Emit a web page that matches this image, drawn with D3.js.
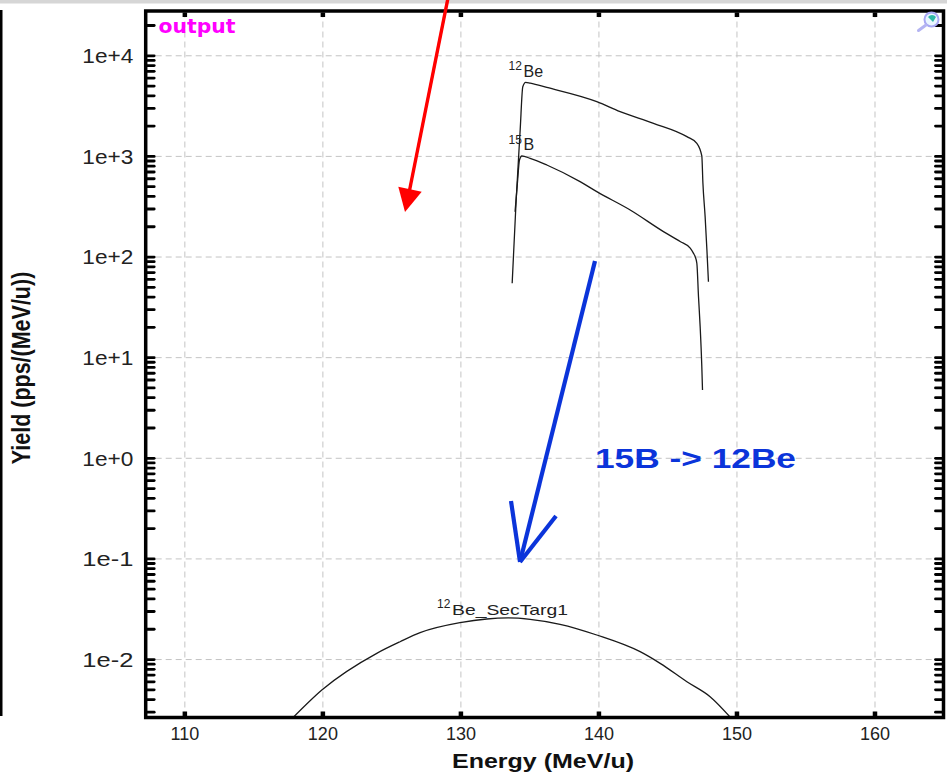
<!DOCTYPE html>
<html>
<head>
<meta charset="utf-8">
<script src="https://cdn.jsdelivr.net/npm/d3@7"></script>
<style>
  body { margin: 0; background: #fff; }
  svg { display: block; }
</style>
</head>
<body>
<div id="chart"></div>
<script>

// tick values
const energyTicks = [110, 120, 130, 140, 150, 160];
const yieldDecades = [1e-2, 1e-1, 1, 10, 100, 1e3, 1e4];

// 12Be (primary beam fragment)
const be12Energy = [133.75, 134.04, 134.33, 134.52, 134.73, 135.06, 136.26, 139.88, 141.57, 143.99, 146.41, 147.13, 147.49, 147.57, 147.73, 147.86, 147.97];
const be12Yield  = [54.2, 365, 1810, 4870, 5390, 5280, 4790, 3460, 2750, 2110, 1553, 1334, 1000, 535, 249, 116, 56.2];

// 15B
const b15Energy = [133.96, 134.13, 134.28, 134.45, 135.05, 136.26, 138.67, 139.88, 142.30, 144.71, 145.92, 146.65, 146.88, 147.01, 147.13, 147.25, 147.37, 147.49, 147.54];
const b15Yield  = [279, 535, 910, 998, 946, 812, 555, 441, 290, 177, 141, 121, 108, 99.5, 85.7, 39.9, 20.1, 8.04, 4.72];

// 12Be after secondary target
const secTargEnergy = [117.85, 119.96, 123.94, 125.63, 127.08, 129.98, 131.91, 133.45, 135.05, 137.22, 139.88, 143.02, 144.47, 146.41, 148.09, 149.6];
const secTargYield  = [0.0026, 0.00492, 0.0114, 0.01486, 0.01828, 0.02298, 0.025, 0.0256, 0.02483, 0.02213, 0.01733, 0.01183, 0.00906, 0.00595, 0.00423, 0.0026];

const W = 947, H = 772;
const plot = { left: 145.7, right: 943.5, top: 11, bottom: 717.5 };
const FONT = '"Liberation Sans", Arial, sans-serif';

let x = d3.scaleLinear().domain([107.2, 165.0]).range([plot.left, plot.right]);
let y = d3.scaleLog().domain([Math.pow(10, -2.581), Math.pow(10, 4.44)]).range([plot.bottom, plot.top]);

let svg = d3.select("#chart")
  .append("svg")
  .attr("width", W)
  .attr("height", H);

// window bits around the plot
svg.append("rect").attr("x", 0).attr("y", 0).attr("width", W).attr("height", 3.5).attr("fill", "#d6d6d6");
svg.append("rect").attr("x", 0).attr("y", 10).attr("width", 2.5).attr("height", 706).attr("fill", "#000");

// X axis (grid + labels)
let gx = svg.append("g")
  .attr("transform", "translate(0," + plot.bottom + ")")
  .call(d3.axisBottom(x).tickValues(energyTicks).tickSize(-(plot.bottom - plot.top)).tickPadding(9.7).tickFormat(d3.format("d")));
gx.select(".domain").remove();
gx.selectAll(".tick line").attr("stroke", "#c4c4c4").attr("stroke-dasharray", "6,4");
gx.selectAll(".tick text")
  .attr("font-family", FONT)
  .attr("font-size", 18)
  .attr("fill", "#222");

// Y axis (grid + labels)
const fmtExp = d => {
  const e = Math.round(Math.log10(d));
  return "1e" + (e >= 0 ? "+" : "-") + Math.abs(e);
};
let gy = svg.append("g")
  .attr("transform", "translate(" + plot.left + ",0)")
  .call(d3.axisLeft(y).tickValues(yieldDecades).tickFormat(fmtExp).tickSize(-(plot.right - plot.left)).tickPadding(12.4));
gy.select(".domain").remove();
gy.selectAll(".tick line").attr("stroke", "#c4c4c4").attr("stroke-dasharray", "6,4");
gy.selectAll(".tick text")
  .attr("font-family", FONT)
  .attr("font-size", 20)
  .attr("fill", "#222")
  .attr("dy", "0.37em")
  .attr("textLength", 51)
  .attr("lengthAdjust", "spacingAndGlyphs");

// inward minor ticks (1..9 x each decade) on left and right edges
const minorY = y.ticks();
let tl = svg.append("g")
  .attr("transform", "translate(" + (plot.left + 1.5) + ",0)")
  .call(d3.axisRight(y).tickValues(minorY).tickSize(7).tickFormat(""));
tl.select(".domain").remove();
tl.selectAll(".tick line").attr("stroke", "#000").attr("stroke-width", 2.8).attr("stroke-linecap", "round");

let tr = svg.append("g")
  .attr("transform", "translate(" + (plot.right - 1.5) + ",0)")
  .call(d3.axisLeft(y).tickValues(minorY).tickSize(6.5).tickFormat(""));
tr.select(".domain").remove();
tr.selectAll(".tick line").attr("stroke", "#000").attr("stroke-width", 2.8).attr("stroke-linecap", "round");

// square marks at top and bottom
let tt = svg.append("g")
  .attr("transform", "translate(0," + (plot.top + 1.5) + ")")
  .call(d3.axisBottom(x).tickValues(energyTicks).tickSize(4.5).tickFormat(""));
tt.select(".domain").remove();
tt.selectAll(".tick line").attr("stroke", "#000").attr("stroke-width", 4.5);

let tb = svg.append("g")
  .attr("transform", "translate(0," + (plot.bottom - 1.5) + ")")
  .call(d3.axisTop(x).tickValues(energyTicks).tickSize(4.5).tickFormat(""));
tb.select(".domain").remove();
tb.selectAll(".tick line").attr("stroke", "#000").attr("stroke-width", 4.5);

// curves
svg.append("clipPath").attr("id", "clip")
  .append("rect")
  .attr("x", plot.left).attr("y", plot.top)
  .attr("width", plot.right - plot.left).attr("height", plot.bottom - plot.top);

let line = d3.line().x(d => x(d[0])).y(d => y(d[1])).curve(d3.curveMonotoneX);

let curves = svg.append("g").attr("clip-path", "url(#clip)")
  .attr("fill", "none").attr("stroke", "#1a1a1a").attr("stroke-width", 1.3);
curves.append("path").attr("d", line(d3.zip(be12Energy, be12Yield)));
curves.append("path").attr("d", line(d3.zip(b15Energy, b15Yield)));
curves.append("path").attr("d", line(d3.zip(secTargEnergy, secTargYield)));

// curve labels
function isoLabel(px, py, mass, name, nameLen) {
  let t = svg.append("text").attr("font-family", FONT).attr("fill", "#222");
  t.append("tspan").attr("x", px).attr("y", py - 6.5).attr("font-size", 12).text(mass);
  let n = t.append("tspan").attr("x", px + 15).attr("y", py).attr("font-size", 16).text(name);
  if (nameLen) n.attr("textLength", nameLen).attr("lengthAdjust", "spacingAndGlyphs").attr("font-size", 15);
}
isoLabel(508.5, 76.5, "12", "Be");
isoLabel(508.5, 150, "15", "B");
isoLabel(437, 614.5, "12", "Be_SecTarg1", 116);

// frame
svg.append("rect")
  .attr("x", plot.left).attr("y", plot.top)
  .attr("width", plot.right - plot.left).attr("height", plot.bottom - plot.top)
  .attr("fill", "none").attr("stroke", "#000").attr("stroke-width", 3.5);

// "output" tag
svg.append("text")
  .attr("x", 158.5).attr("y", 33)
  .attr("font-family", '"DejaVu Sans", Verdana, sans-serif')
  .attr("font-weight", "bold").attr("font-size", 19)
  .attr("textLength", 77).attr("lengthAdjust", "spacingAndGlyphs")
  .attr("fill", "#ff00ff")
  .text("output");

// magnifier icon
svg.append("circle").attr("cx", 931.5).attr("cy", 19.5).attr("r", 7)
  .attr("fill", "#eaf7ff").attr("stroke", "#a8a8f4").attr("stroke-width", 2);
svg.append("path").attr("d", "M928,17 A5,5 0 0 1 936,17 L933,22 Z").attr("fill", "#2fb8a8");
svg.append("line").attr("x1", 926).attr("y1", 25).attr("x2", 918.5).attr("y2", 30.5)
  .attr("stroke", "#b4b4f2").attr("stroke-width", 3).attr("stroke-linecap", "round");

// red arrow
svg.append("line").attr("x1", 448).attr("y1", -2).attr("x2", 409.6).attr("y2", 190)
  .attr("stroke", "#ff0000").attr("stroke-width", 3.4);
svg.append("polygon").attr("points", "405,212 398.3,186.7 421.7,191.7").attr("fill", "#ff0000");

// blue arrow (hand drawn)
const BLUE = "#0b34da";
let blue = svg.append("g").attr("stroke", BLUE).attr("stroke-width", 4.2).attr("fill", "none");
blue.append("line").attr("x1", 595).attr("y1", 261).attr("x2", 520).attr("y2", 562);
blue.append("line").attr("x1", 511).attr("y1", 501).attr("x2", 520).attr("y2", 562);
blue.append("line").attr("x1", 556).attr("y1", 516).attr("x2", 520).attr("y2", 562);

svg.append("text")
  .attr("x", 595).attr("y", 468)
  .attr("font-family", FONT).attr("font-weight", "bold").attr("font-size", 28)
  .attr("textLength", 201).attr("lengthAdjust", "spacingAndGlyphs")
  .attr("fill", BLUE)
  .text("15B -> 12Be");

// axis titles
svg.append("text")
  .attr("x", 543).attr("y", 768)
  .attr("text-anchor", "middle")
  .attr("font-family", FONT).attr("font-weight", "bold").attr("font-size", 20)
  .attr("textLength", 182).attr("lengthAdjust", "spacingAndGlyphs")
  .attr("fill", "#111")
  .text("Energy (MeV/u)");

svg.append("text")
  .attr("transform", "translate(30,368) scale(1.2,1) rotate(-90)")
  .attr("text-anchor", "middle")
  .attr("font-family", FONT).attr("font-weight", "bold").attr("font-size", 21.5)
  .attr("fill", "#111")
  .text("Yield (pps/(MeV/u))");

</script>
</body>
</html>
